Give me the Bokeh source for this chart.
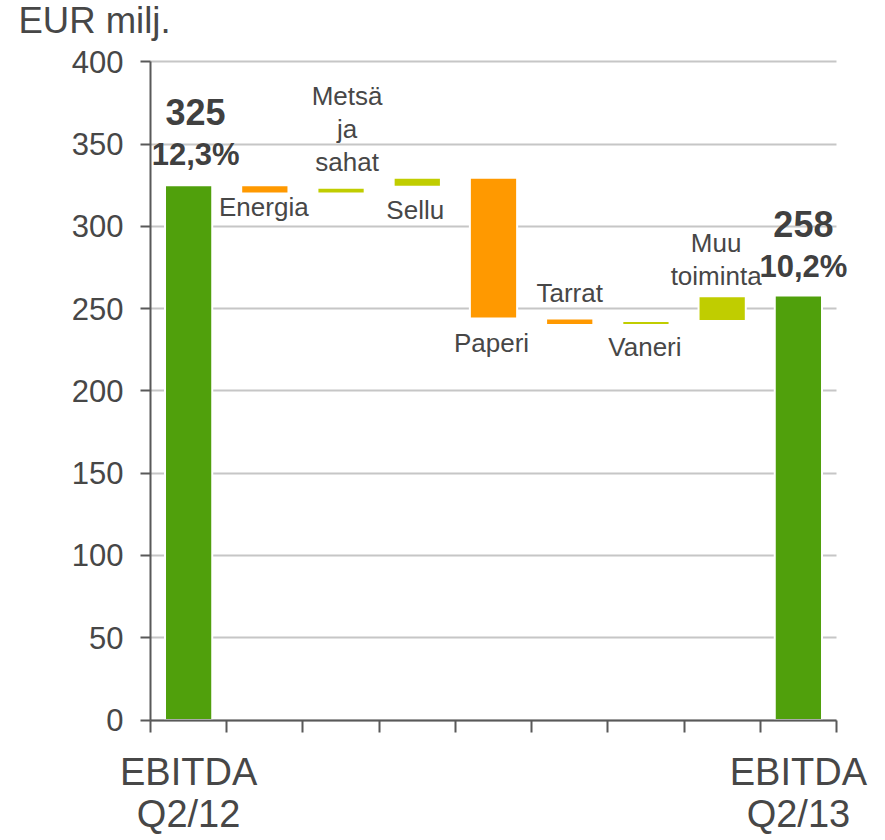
from bokeh.plotting import figure
from bokeh.models import Range1d, FixedTicker, ColumnDataSource
from bokeh.core.properties import value
from bokeh.embed import file_html
from bokeh.resources import INLINE

# ---- data ----
categories = ["EBITDA Q2/12", "Energia", "Metsä ja sahat", "Sellu", "Paperi",
              "Tarrat", "Vaneri", "Muu toiminta", "EBITDA Q2/13"]
bar_bottom = [0, 320, 320, 324, 244, 240, 240, 242.5, 0]
bar_top = [325, 325, 323.5, 329.5, 329.5, 244, 242.5, 257.5, 258]
bar_kind = ["total", "neg", "pos", "pos", "neg", "neg", "pos", "pos", "total"]
step_labels = ["", "Energia", "Metsä\nja\nsahat", "Sellu", "Paperi",
               "Tarrat", "Vaneri", "Muu\ntoiminta", ""]
total_values = ["325", "258"]
total_margins = ["12,3%", "10,2%"]
total_names = ["EBITDA", "EBITDA"]
total_periods = ["Q2/12", "Q2/13"]
y_ticks = [0, 50, 100, 150, 200, 250, 300, 350, 400]
unit_label = "EUR milj."

# ---- layout / style ----
colors = {"total": "#50a00c", "neg": "#ff9900", "pos": "#c0cd00"}
label_side = ["", "below", "above", "below", "below", "above", "below", "above", ""]
label_dx = [0, -1, 6, -2, -2, 0, -1, -6, 0]         # px
label_dy = [0, 14, -10.5, 23, 24.5, -10, 22, -5, 0]  # px, positive = down
total_dx = [7, 5]
total_dy = [0, 2]
FONT = "Liberation Sans"
TXT = "#474747"
W, H = 870, 840
AXIS_X_PX = 150          # canvas column of the y axis
PX_PER_CAT = 686 / 9     # width of one category
PX_PER_UNIT = 1.6455     # pixels per EUR milj.
Y0_PX = 719.5            # canvas row of value 0

x_start = -AXIS_X_PX / PX_PER_CAT
x_end = (W - AXIS_X_PX) / PX_PER_CAT
y_end = Y0_PX / PX_PER_UNIT
y_start = -(H - Y0_PX) / PX_PER_UNIT

xs = [i + 0.5 for i in range(len(categories))]

p = figure(width=W, height=H, x_range=Range1d(x_start, x_end),
           y_range=Range1d(y_start, y_end),
           output_backend="svg", toolbar_location=None, min_border=0)
p.outline_line_color = None
p.background_fill_color = "white"
p.border_fill_color = "white"

src = ColumnDataSource(dict(x=xs, top=bar_top, bottom=bar_bottom,
                            color=[colors[k] for k in bar_kind]))
p.vbar(x="x", top="top", bottom="bottom", width=0.62, fill_color="color",
       line_color="white", line_width=2, source=src)

# step labels
for i, t in enumerate(step_labels):
    if not t:
        continue
    if label_side[i] == "above":
        p.text(x=[xs[i]], y=[bar_top[i]], text=[t], x_offset=label_dx[i],
               y_offset=label_dy[i], text_align="center", text_baseline="bottom",
               text_font=value(FONT), text_font_size="26px", text_color=TXT,
               text_line_height=1.1)
    else:
        p.text(x=[xs[i]], y=[bar_bottom[i]], text=[t], x_offset=label_dx[i],
               y_offset=label_dy[i], text_align="center", text_baseline="alphabetic",
               text_font=value(FONT), text_font_size="26px", text_color=TXT)

# totals
tot_idx = [0, len(categories) - 1]
tot_x = [xs[i] for i in tot_idx]
tot_y = [bar_top[i] for i in tot_idx]
src_tot = ColumnDataSource(dict(x=tot_x, y=tot_y, v=total_values, m=total_margins,
                                dx=total_dx, dyv=[-73 + d for d in total_dy],
                                dym=[-31 + d for d in total_dy],
                                z=[0, 0], n=total_names, q=total_periods))
p.text(x="x", y="y", text="v", x_offset="dx", y_offset="dyv", source=src_tot,
       text_align="center", text_baseline="alphabetic", text_font=value(FONT),
       text_font_size="36px", text_font_style="bold", text_color="#404040")
p.text(x="x", y="y", text="m", x_offset="dx", y_offset="dym", source=src_tot,
       text_align="center", text_baseline="alphabetic", text_font=value(FONT),
       text_font_size="31px", text_font_style="bold", text_color="#404040")

# category names of the two totals, under the x axis
p.text(x="x", y="z", text="n", y_offset=52, source=src_tot,
       text_align="center", text_baseline="alphabetic", text_font=value(FONT),
       text_font_size="38px", text_color=TXT)
p.text(x="x", y="z", text="q", y_offset=94, source=src_tot,
       text_align="center", text_baseline="alphabetic", text_font=value(FONT),
       text_font_size="38px", text_color=TXT)

# unit label above the y axis
p.text(x=[0], y=[y_ticks[-1]], text=[unit_label], x_offset=-132, y_offset=-41,
       text_align="left", text_baseline="alphabetic", text_font=value(FONT),
       text_font_size="36.5px", text_color=TXT)

# y axis, pinned at x = 0
ax = p.yaxis[0]
ax.fixed_location = 0
ax.ticker = FixedTicker(ticks=y_ticks)
ax.bounds = (0, 400)
ax.major_label_text_font = FONT
ax.major_label_text_font_size = "31px"
ax.major_label_text_color = TXT
ax.axis_line_color = "#595959"
ax.axis_line_width = 2
ax.major_tick_line_color = "#595959"
ax.major_tick_line_width = 2
ax.major_tick_out = 10
ax.major_tick_in = 0
ax.minor_tick_out = 0
ax.minor_tick_in = 0
ax.major_label_standoff = 17

# x axis, pinned at value 0, ticks at category boundaries
xa = p.xaxis[0]
xa.fixed_location = 0
xa.bounds = (0, 9)
xa.ticker = FixedTicker(ticks=list(range(10)))
xa.major_label_overrides = {i: "" for i in range(10)}
xa.major_label_text_font_size = "1px"
xa.major_label_standoff = 0
xa.axis_line_color = "#595959"
xa.axis_line_width = 2
xa.major_tick_out = 12
xa.major_tick_in = 0
xa.major_tick_line_color = "#595959"
xa.major_tick_line_width = 2
xa.minor_tick_out = 0
xa.minor_tick_in = 0

p.xgrid.grid_line_color = None
g = p.ygrid[0]
g.ticker = FixedTicker(ticks=y_ticks)
g.grid_line_color = "#c6c6c6"
g.grid_line_width = 2
try:
    g.cross_bounds = (0, 9)
except Exception:
    g.grid_line_color = None
    p.segment(x0=[0] * len(y_ticks), x1=[9] * len(y_ticks), y0=y_ticks, y1=y_ticks,
              line_color="#c6c6c6", line_width=2, level="underlay")

open("out.html", "w").write(file_html(p, INLINE))
